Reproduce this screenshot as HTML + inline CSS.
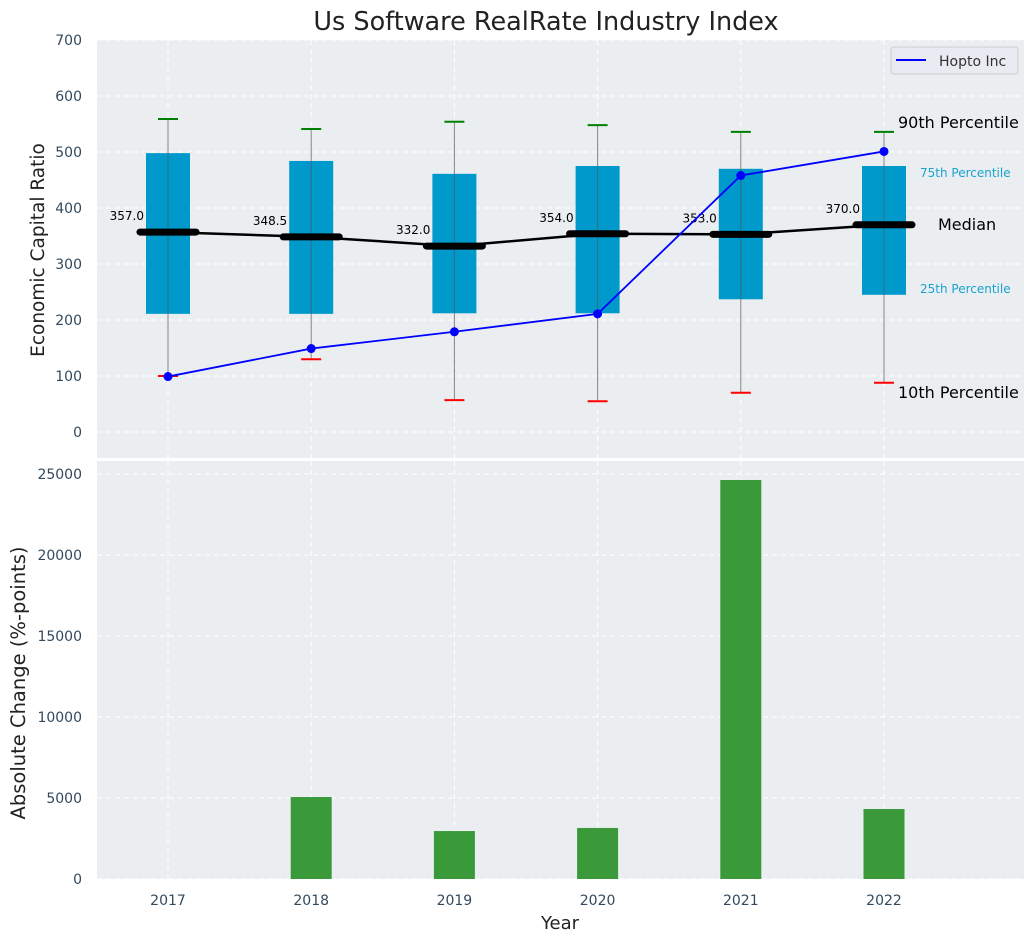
<!DOCTYPE html>
<html><head><meta charset="utf-8"><style>
body{margin:0;background:#fff}
text{font-family:"DejaVu Sans","Liberation Sans",sans-serif}
</style></head><body>
<svg id="chart" width="1035" height="942" xmlns="http://www.w3.org/2000/svg">
<text x="546" y="30" text-anchor="middle" font-size="25.5" fill="#222">Us Software RealRate Industry Index</text>
<rect x="97" y="40" width="927" height="418" fill="#eaeef0"/>
<rect x="97" y="461" width="927" height="418" fill="#eaeef0"/>
<g id="grid"></g>
<g id="marks"></g>
<text transform="translate(44,250) rotate(-90)" text-anchor="middle" font-size="18.5" fill="#222">Economic Capital Ratio</text>
<text transform="translate(25,683) rotate(-90)" text-anchor="middle" font-size="19.5" fill="#222">Absolute Change (%-points)</text>
<text x="560" y="929" text-anchor="middle" font-size="18" fill="#222">Year</text>
<g>
<rect x="891" y="47" width="127" height="27" rx="3" fill="#eaeaf2" stroke="#ccc"/>
<line x1="896" y1="60" x2="926" y2="60" stroke="#0000ff" stroke-width="2"/>
<text x="939" y="66" font-size="14" fill="#333">Hopto Inc</text>
</g>
<text x="898" y="128" font-size="16" fill="#000">90th Percentile</text>
<text x="920" y="177" font-size="12" fill="#1aa3d0">75th Percentile</text>
<text x="938" y="230" font-size="16" fill="#000">Median</text>
<text x="920" y="293" font-size="12" fill="#1aa3d0">25th Percentile</text>
<text x="898" y="398" font-size="16" fill="#000">10th Percentile</text>
</svg>
<script>
const years=[2017,2018,2019,2020,2021,2022];
const p10=[100,130,57,55,70,88];
const p25=[211,211,212,212,237,245];
const medians=[357,348.5,332,354,353,370];
const p75=[498,484,461,475,470,475];
const p90=[559,541,554,548,536,536];
const hopto=[99,149,179,211,458,501];
const changes=[0,5060,2960,3150,24630,4320];
const topTicks=[0,100,200,300,400,500,600,700];
const botTicks=[0,5000,10000,15000,20000,25000];

const NS="http://www.w3.org/2000/svg";
const X=v=>168+(v-2017)*143.2;
const YT=v=>432-v*0.56;
const YB=v=>879-v*0.0162;
const grid=document.getElementById('grid'), marks=document.getElementById('marks');
function mk(p,tag,a){const e=document.createElementNS(NS,tag);for(const k in a)e.setAttribute(k,a[k]);p.appendChild(e);return e;}
topTicks.forEach(t=>{
 let l=mk(grid,'line',{x1:97,x2:1024,y1:YT(t),y2:YT(t),stroke:'#fff','stroke-dasharray':'5,4'});
 
 
 let tx=mk(grid,'text',{x:82,y:YT(t)+5,'text-anchor':'end','font-size':14,fill:'#34495e'});tx.textContent=t;
 
 
});
botTicks.forEach(t=>{
 let l=mk(grid,'line',{x1:97,x2:1024,y1:YB(t),y2:YB(t),stroke:'#fff','stroke-dasharray':'5,4'});
 
 
 let tx=mk(grid,'text',{x:82,y:YB(t)+5,'text-anchor':'end','font-size':14,fill:'#34495e'});tx.textContent=t;
 
 
});
years.forEach(y=>{
 [[40,458],[461,879]].forEach(r=>{let l=mk(grid,'line',{x1:X(y),x2:X(y),y1:r[0],y2:r[1],stroke:'#fff','stroke-dasharray':'5,4'});
 
 });
 let tx=mk(grid,'text',{x:X(y),y:905,'text-anchor':'middle','font-size':14,fill:'#34495e'});tx.textContent=y;
 
 
});
years.forEach((y,i)=>{
 const cx=X(y);
 let b=mk(marks,'rect',{x:cx-22,y:YT(p75[i]),width:44,height:YT(p25[i])-YT(p75[i]),fill:'#0099cc'});
 
 
 let w=mk(marks,'line',{x1:cx,x2:cx,y1:YT(p90[i]),y2:YT(p10[i]),stroke:'#555','stroke-opacity':0.7,'stroke-width':1});
 
 
 let c1=mk(marks,'line',{x1:cx-10,x2:cx+10,y1:YT(p90[i]),y2:YT(p90[i]),stroke:'green','stroke-width':2});
 
 
 let c2=mk(marks,'line',{x1:cx-10,x2:cx+10,y1:YT(p10[i]),y2:YT(p10[i]),stroke:'red','stroke-width':2});
 
 
 if(changes[i]>0){let r=mk(marks,'rect',{x:cx-20.5,y:YB(changes[i]),width:41,height:YB(0)-YB(changes[i]),fill:'#3a9a3a'});
 
 }
});
let mp=mk(marks,'polyline',{points:years.map((y,i)=>X(y)+','+YT(medians[i])).join(' '),fill:'none',stroke:'#000','stroke-width':2.5});


years.forEach((y,i)=>{
 const cx=X(y);
 let m=mk(marks,'line',{x1:cx-28,x2:cx+28,y1:YT(medians[i]),y2:YT(medians[i]),stroke:'#000','stroke-width':7,'stroke-linecap':'round'});
 
 
 let t=mk(marks,'text',{x:cx-24,y:YT(medians[i])-12,'text-anchor':'end','font-size':12,fill:'#000'});t.textContent=medians[i].toFixed(1);
 
 
});
let hp=mk(marks,'polyline',{points:years.map((y,i)=>X(y)+','+YT(hopto[i])).join(' '),fill:'none',stroke:'#0000ff','stroke-width':1.8});


years.forEach((y,i)=>{let c=mk(marks,'circle',{cx:X(y),cy:YT(hopto[i]),r:4.5,fill:'#0000ff'});
 
 });
</script>
</body></html>
